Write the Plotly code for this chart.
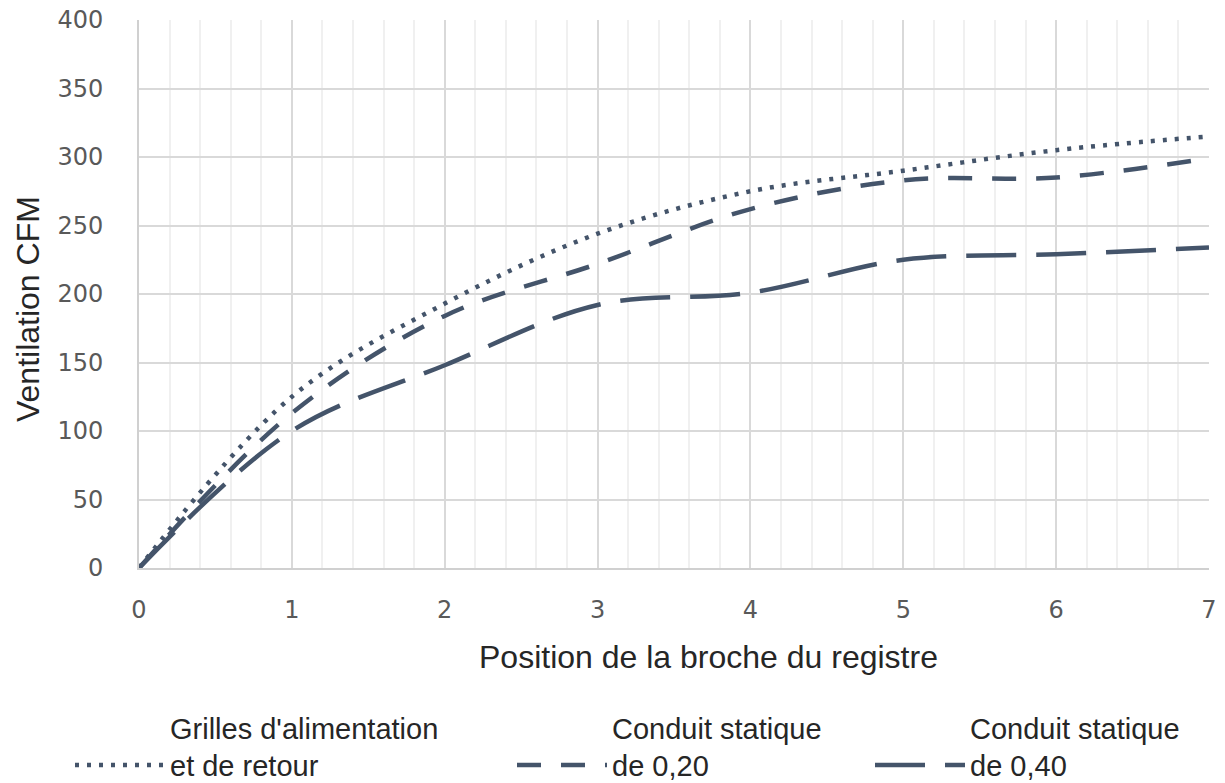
import plotly.graph_objects as go

positions = [0, 1, 2, 3, 4, 5, 6, 7]
grilles = [0, 125, 193, 244, 275, 290, 305, 315]
conduit_020 = [0, 113, 184, 222, 262, 283, 285, 299]
conduit_040 = [0, 100, 148, 192, 201, 225, 229, 234]

names = ["Grilles d'alimentation<br>et de retour",
         "Conduit statique<br>de 0,20",
         "Conduit statique<br>de 0,40"]
series = [grilles, conduit_020, conduit_040]
dashes = ["4px,8px", "24px,20px", "50px,20px"]
legends = ["legend", "legend2", "legend3"]

x_ticks = [0, 1, 2, 3, 4, 5, 6, 7]
y_ticks = [0, 50, 100, 150, 200, 250, 300, 350, 400]

LINE = "#44546A"
W, H = 1225, 783
L, R, T, B = 139, 16, 20, 215

fig = go.Figure()
for nm, ys, dash, lg in zip(names, series, dashes, legends):
    fig.add_trace(go.Scatter(
        x=positions, y=ys, mode="lines", name=nm, legend=lg,
        line=dict(color=LINE, width=4.5, dash=dash, shape="spline", smoothing=1),
    ))

legfont = dict(family="Liberation Sans, Arial, sans-serif", size=29, color="#262626")
def leg(page_x):
    return dict(x=page_x / W, y=1 - 702 / H, xref="container", yref="container",
                xanchor="left", yanchor="top", font=legfont, valign="bottom",
                itemwidth=90, bgcolor="rgba(0,0,0,0)", tracegroupgap=0)

tickfont = dict(family="DejaVu Sans, sans-serif", size=24, color="#595959")
fig.update_layout(
    width=W, height=H,
    margin=dict(l=L, r=R, t=T, b=B, autoexpand=False),
    paper_bgcolor="white", plot_bgcolor="white",
    showlegend=True,
    legend=leg(70), legend2=leg(512), legend3=leg(870),
    xaxis=dict(range=[0, 7], tickvals=x_ticks, ticktext=[str(v) for v in x_ticks],
               showgrid=True, gridcolor="#d9d9d9", gridwidth=1.5,
               minor=dict(dtick=0.2, showgrid=True, gridcolor="#f0f0f0", gridwidth=1.5),
               showline=True, linecolor="#d0d0d0", linewidth=2,
               ticks="", tickfont=tickfont, ticklabelstandoff=19, zeroline=False,
               ticklabeloverflow="allow", fixedrange=True),
    yaxis=dict(range=[0, 400], tickvals=y_ticks, ticktext=[str(v) for v in y_ticks],
               showgrid=True, gridcolor="#d9d9d9", gridwidth=1.5,
               showline=True, linecolor="#d0d0d0", linewidth=2,
               ticks="", tickfont=tickfont, ticklabelstandoff=29, zeroline=False,
               ticklabeloverflow="allow", fixedrange=True),
    annotations=[
        dict(text="Position de la broche du registre", xref="paper", yref="paper",
             x=(708 - 139) / (1209 - 139), y=0, yshift=-(657 - 568), showarrow=False,
             xanchor="center", yanchor="middle",
             font=dict(family="Liberation Sans, Arial, sans-serif", size=32, color="#262626")),
        dict(text="Ventilation CFM", xref="paper", yref="paper", textangle=-90,
             x=0, xshift=-(139 - 28), y=(568 - 309) / (568 - 20), showarrow=False,
             xanchor="center", yanchor="middle",
             font=dict(family="Liberation Sans, Arial, sans-serif", size=32, color="#262626")),
    ],
)

fig.write_html("out.html", config={"displayModeBar": False},
               post_script="document.body.style.margin='0';document.body.style.overflow='hidden';")
